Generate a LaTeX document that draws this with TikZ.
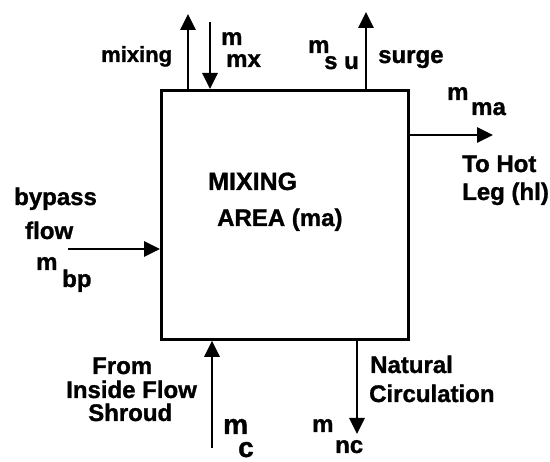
\documentclass[tikz,border=0pt]{standalone}
\usepackage{fontspec}
\setmainfont{Liberation Sans}
\newfontfamily\heavy{Liberation Sans Bold}[FakeBold=1.2]
\usetikzlibrary{arrows.meta}
\begin{document}
\begin{tikzpicture}[x=1pt,y=-1pt,
  lbl/.style={font=\fontsize{24}{28}\heavy, inner sep=0pt, anchor=base west},
  big/.style={font=\fontsize{28}{32}\heavy, inner sep=0pt, anchor=base west},
  flow/.style={line width=2.8pt, -{Triangle[length=16pt,width=15pt]}}]
\useasboundingbox (0,0) rectangle (550,462);
\node[draw, line width=2.8pt, minimum width=247pt, minimum height=249pt, inner sep=0pt, anchor=north west] (box) at (160,89) {};
% connector end coordinates
\coordinate (mixtop) at (188,14);
\coordinate (mxtop) at (210,22);
\coordinate (sutop) at (366,12);
\coordinate (maend) at (493,135);
\coordinate (bpstart) at (68,249);
\coordinate (cstart) at (212,448);
\coordinate (ncend) at (357,434);
% arrows
\draw[flow] (box.north west -| mixtop) -- (mixtop);
\draw[flow] (mxtop) -- (box.north west -| mxtop);
\draw[flow] (box.north west -| sutop) -- (sutop);
\draw[flow] (box.north east |- maend) -- (maend);
\draw[flow] (bpstart) -- (box.north west |- bpstart);
\draw[flow] (cstart) -- (box.south west -| cstart);
\draw[flow] (box.south west -| ncend) -- (ncend);
% labels
\node[lbl, font=\fontsize{22}{26}\heavy] (lmix) at (101,62) {mixing};
\node[lbl] (lmxm) at (221,45) {m};
\node[lbl] (lmxs) at (226,67) {mx};
\node[lbl] (lsum) at (308,53) {m};
\node[lbl] (lsus) at (324,69) {s u};
\node[lbl] (lsurge) at (378,63) {surge};
\node[lbl] (lmam) at (447,100) {m};
\node[lbl] (lmas) at (471,115) {ma};
\node[lbl] (lhot1) at (462,172) {To Hot};
\node[lbl] (lhot2) at (462,200) {Leg (hl)};
\node[lbl, font=\fontsize{25}{28}\heavy] (lma1) at (208,190) {MIXING};
\node[lbl] (lma2) at (217,226) {AREA (ma)};
\node[lbl] (lbp1) at (14,205) {bypass};
\node[lbl] (lbp2) at (25,239) {flow};
\node[lbl] (lbpm) at (36,270) {m};
\node[lbl] (lbps) at (62,287) {bp};
\node[lbl] (lfr1) at (92,374) {From};
\node[lbl] (lfr2) at (66,398) {Inside Flow};
\node[lbl] (lfr3) at (88,421) {Shroud};
\node[big] (lcm) at (223,434) {m};
\node[big] (lcs) at (238,457) {c};
\node[lbl] (lnc1) at (370,373) {Natural};
\node[lbl] (lnc2) at (369,402) {Circulation};
\node[lbl] (lncm) at (312,432) {m};
\node[lbl] (lncs) at (335,453) {nc};
\end{tikzpicture}
\end{document}
